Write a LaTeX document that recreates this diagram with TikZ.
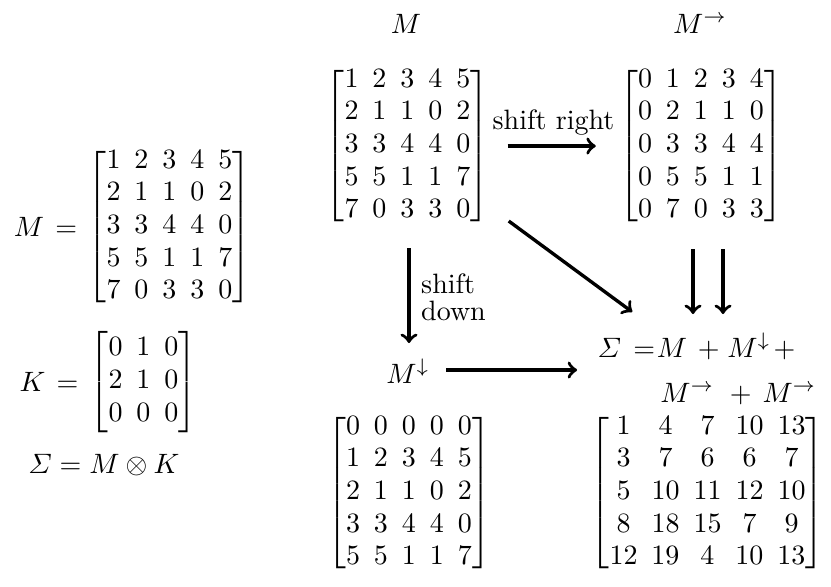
\documentclass[tikz,border=0pt]{standalone}
\usepackage{amsmath}
\usetikzlibrary{calc}
\newcommand{\mymat}[1]{$\setlength\arraycolsep{2.5pt}\renewcommand\arraystretch{0.97}\begin{bmatrix}#1\end{bmatrix}$}
\begin{document}
\begin{tikzpicture}[x=0.35714pt,y=-0.35714pt,
  arr/.style={->,line width=1.2pt},
  txt/.style={inner sep=0pt}]
\useasboundingbox (0,0) rectangle (831,586);
% left column
\node[txt] (Meq) at (45.5,227) {$M\hspace{4pt}{=}$};
\node[txt] (Ml) at (169.5,227) {\mymat{1&2&3&4&5\\2&1&1&0&2\\3&3&4&4&0\\5&5&1&1&7\\7&0&3&3&0}};
\node[txt] (Keq) at (49,382) {$K\hspace{4pt}{=}$};
\node[txt] (Kl) at (143.5,382) {\mymat{0&1&0\\2&1&0\\0&0&0}};
\node[txt] (Seq) at (104,465) {$\varSigma = M\otimes K$};
% titles
\node[txt,anchor=base] (tM) at (406,33) {$M$};
\node[txt,anchor=base] (tMr) at (700,33) {$M^{\rightarrow}$};
% matrices
\node[txt] (Mm) at (407.5,146) {\mymat{1&2&3&4&5\\2&1&1&0&2\\3&3&4&4&0\\5&5&1&1&7\\7&0&3&3&0}};
\node[txt] (Mr) at (701,146) {\mymat{0&1&2&3&4\\0&2&1&1&0\\0&3&3&4&4\\0&5&5&1&1\\0&7&0&3&3}};
\node[txt] (Md) at (409,493) {\mymat{0&0&0&0&0\\1&2&3&4&5\\2&1&1&0&2\\3&3&4&4&0\\5&5&1&1&7}};
\node[txt] (Ms) at (707.5,493) {\mymat{1&4&7&10&13\\3&7&6&6&7\\5&10&11&12&10\\8&18&15&7&9\\12&19&4&10&13}};
% labels
\node[txt] (lr) at (553.5,123) {shift right};
\node[txt,align=left] (ld) at (453.5,297) {shift\\[-2.4pt]down};
\node[txt,anchor=base] (Mdl) at (408,383) {$M^{\downarrow}$};
\node[txt,anchor=base west] (S1) at (597,357) {$\varSigma\mkern8mu{=}\mkern1mu M\mkern3mu+\mkern1mu M^{\downarrow}\mkern2mu{+}$};
\node[txt,anchor=base east] (S2) at (817,402) {$M^{\rightarrow}\mkern6mu+\mkern3mu M^{\rightarrow}$};
% arrows
\draw[arr] ($(Mm.east)+(18,0)$) -- ($(Mr.west)+(-23,0)$);
\draw[arr] ($(Mm.south)+(1.5,20)$) -- ($(Mm.south)+(1.5,115)$);
\draw[arr] ($(Mdl.base east)+(16,-13)$) -- ($(Mdl.base east)+(147,-13)$);
\draw[arr] ($(Mm.south east)+(19,-7)$) -- ($(Ms.north west)+(42,-99)$);
\draw[arr] ($(Mr.south)+(-8,21)$) -- ($(Mr.south)+(-8,86)$);
\draw[arr] ($(Mr.south)+(22,21)$) -- ($(Mr.south)+(22,86)$);
\end{tikzpicture}
\end{document}
